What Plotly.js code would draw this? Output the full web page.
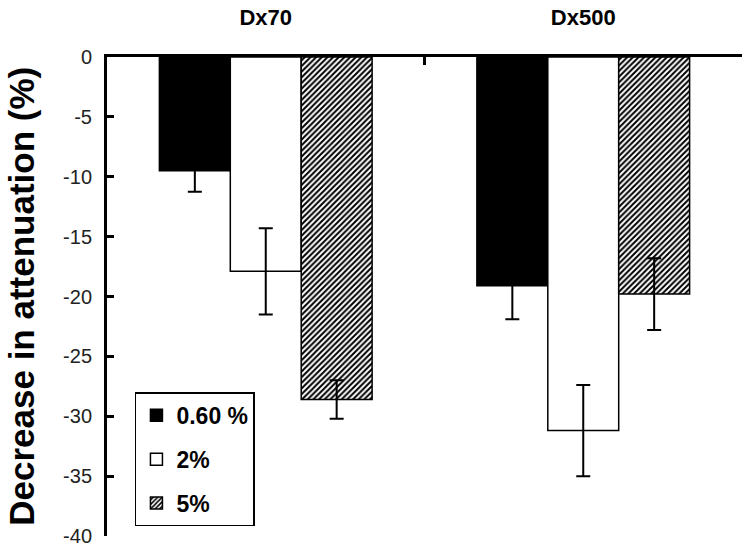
<!DOCTYPE html>
<html>
<head>
<meta charset="utf-8">
<script src="https://cdn.plot.ly/plotly-3.0.1.min.js"></script>
<style>
  html, body { margin: 0; padding: 0; background: #fff; }
  #plot { width: 750px; height: 549px; }
</style>
</head>
<body>
<div id="plot"></div>
<script>
var groups = ['Dx70', 'Dx500'];
var seriesNames = ['0.60 %', '2%', '5%'];
var conc060 = [-9.5, -19.1];
var conc2 = [-17.9, -31.2];
var conc5 = [-28.6, -19.8];
var err060 = [1.75, 2.8];
var err2 = [3.6, 3.8];
var err5 = [1.6, 3.0];
var yTickVals = [0, -5, -10, -15, -20, -25, -30, -35, -40];
var yTickText = ['0', '-5', '-10', '-15', '-20', '-25', '-30', '-35', '-40'];

function barTrace(name, y, err, fill, pattern, group) {
    var marker = {color: fill, line: {color: 'black', width: 1.5}};
    if (pattern) marker.pattern = pattern;
    return {
        type: 'bar',
        name: name,
        x: groups,
        y: y,
        legendgroup: group,
        marker: marker,
        error_y: {type: 'data', array: err, visible: true, color: 'black', thickness: 2, width: 7}
    };
}

var data = [
    barTrace(seriesNames[0], conc060, err060, 'black', null, 'a'),
    barTrace(seriesNames[1], conc2, err2, 'white', null, 'b'),
    barTrace(seriesNames[2], conc5, err5, 'white',
        {shape: '/', fgcolor: 'black', bgcolor: 'white', size: 4, solidity: 0.5}, 'c')
];

var layout = {
    width: 750,
    height: 549,
    margin: {l: 107, r: 8, t: 57, b: 13},
    paper_bgcolor: 'white',
    plot_bgcolor: 'white',
    font: {family: 'Liberation Sans, Arial, sans-serif', color: 'black'},
    barmode: 'group',
    bargap: 0.33,
    bargroupgap: 0,
    showlegend: true,
    legend: {
        x: 0.044, y: 0.30, xanchor: 'left', yanchor: 'top',
        bgcolor: 'white', bordercolor: 'black', borderwidth: 1.5,
        font: {size: 23, family: 'Liberation Sans, Arial', weight: 'bold'},
        tracegroupgap: 11,
        itemwidth: 30,
        traceorder: 'grouped'
    },
    xaxis: {
        side: 'top',
        showline: true, linecolor: 'black', linewidth: 3,
        ticks: 'inside', tickson: 'boundaries', ticklen: 8, tickwidth: 3, tickcolor: 'black',
        tickfont: {size: 22, weight: 'bold'},
        ticklabelstandoff: 20,
        zeroline: false,
        showgrid: false
    },
    yaxis: {
        range: [-40, 0],
        tickvals: yTickVals,
        ticktext: yTickText,
        showline: true, linecolor: 'black', linewidth: 3,
        ticks: 'inside', ticklen: 7, tickwidth: 3, tickcolor: 'black',
        tickfont: {size: 20, color: '#222'},
        ticklabelstandoff: 8,
        showgrid: false,
        zeroline: false
    },
    annotations: [{
        text: 'Decrease in attenuation (%)',
        xref: 'paper', yref: 'paper',
        x: -0.135, y: 0.5,
        xanchor: 'center', yanchor: 'middle',
        textangle: -90,
        showarrow: false,
        font: {size: 35, weight: 'bold', color: 'black'}
    }]
};

Plotly.newPlot('plot', data, layout, {displayModeBar: false});
</script>
</body>
</html>
